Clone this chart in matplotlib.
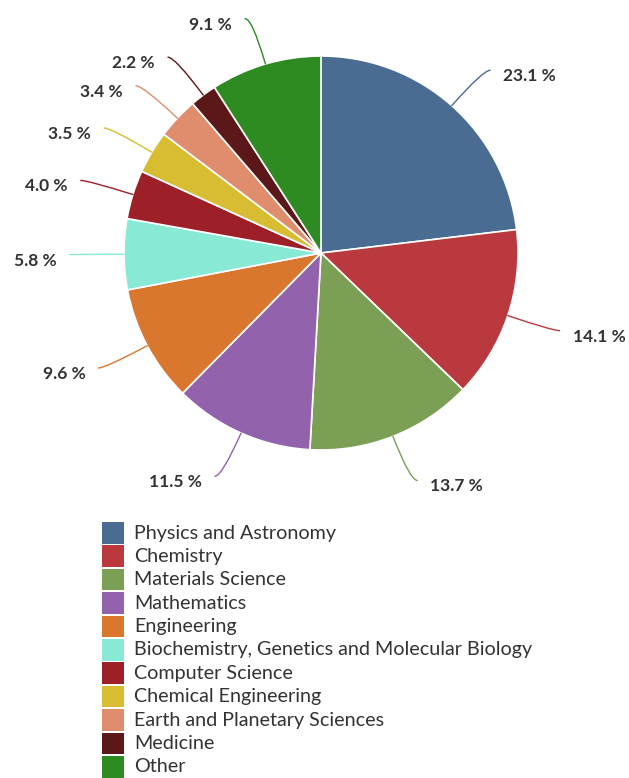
import numpy as np
import matplotlib
matplotlib.use('Agg')
import matplotlib.pyplot as plt
from matplotlib.patches import Rectangle

categories = ['Physics and Astronomy', 'Chemistry', 'Materials Science', 'Mathematics',
              'Engineering', 'Biochemistry, Genetics and Molecular Biology', 'Computer Science',
              'Chemical Engineering', 'Earth and Planetary Sciences', 'Medicine', 'Other']
shares = [23.1, 14.1, 13.7, 11.5, 9.6, 5.8, 4.0, 3.5, 3.4, 2.2, 9.1]
colors = ['#4a6b92', '#b9393f', '#7c9f56', '#9262ad', '#d9772f', '#88e9d4',
          '#9d1f27', '#d8bd33', '#e08d6e', '#5c1719', '#2e8b22']

plt.rcParams['font.family'] = ['Lato', 'DejaVu Sans']

W, H = 629, 778
fig = plt.figure(figsize=(W / 100, H / 100), dpi=100)
ax = fig.add_axes([0, 0, 1, 1])

cx, cy, R = 321, H - 253, 197
ax.pie(shares, colors=colors, startangle=90, counterclock=False, radius=R,
       center=(cx, cy), wedgeprops=dict(edgecolor='white', linewidth=1.2))
ax.set_xlim(0, W)
ax.set_ylim(0, H)
ax.set_aspect('auto')
ax.axis('off')

# data labels with soft connectors
total = sum(shares)
start = 90.0
for v, c in zip(shares, colors):
    span = v / total * 360
    mid = start - span / 2
    start -= span
    a = np.radians(mid)
    right = np.cos(a) >= 0
    sgn = 1 if right else -1
    p0 = (cx + R * np.cos(a), cy + R * np.sin(a))
    p1 = (cx + 1.24 * R * np.cos(a) + sgn * 7, cy + 1.24 * R * np.sin(a))
    if abs(np.sin(a)) < 0.05:
        cs = 'arc3,rad=0'
    else:
        cs = 'angle3,angleA=0,angleB=%.2f' % mid
    ax.annotate('', xy=p0, xytext=p1,
                arrowprops=dict(arrowstyle='-', color=c, lw=1,
                                shrinkA=0, shrinkB=0, connectionstyle=cs))
    ax.text(p1[0] + sgn * 13, p1[1] - 6, '%.1f %%' % v,
            ha='left' if right else 'right', va='center',
            fontsize=12.5, fontweight='bold', color='#333333')

# legend
for i, (name, c) in enumerate(zip(categories, colors)):
    top = 522 + i * 23.4
    ax.add_patch(Rectangle((102, H - top - 21.5), 22, 21.5, facecolor=c,
                           edgecolor='none'))
    ax.text(134, H - top - 11, name, ha='left', va='center',
            fontsize=14.2, color='#333333')

fig.savefig('out.png', dpi=100, facecolor='white')
